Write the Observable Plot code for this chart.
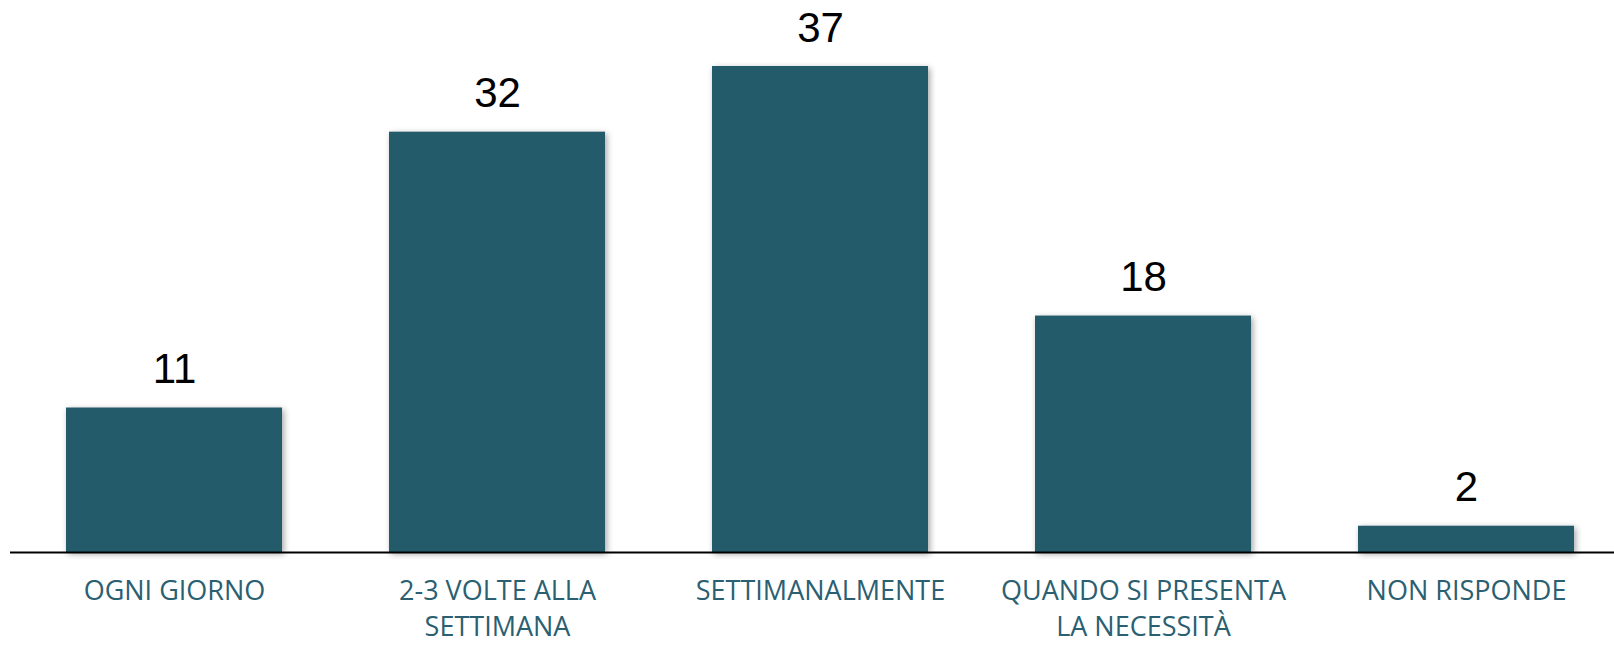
<!DOCTYPE html>
<html>
<head>
<meta charset="utf-8">
<script src="https://cdn.jsdelivr.net/npm/d3@7"></script>
<script src="https://cdn.jsdelivr.net/npm/@observablehq/plot@0.6"></script>
<style>
  html, body { margin: 0; padding: 0; background: #fff; overflow: hidden; }
  #chart svg { display: block; }
</style>
</head>
<body>
<div id="chart"></div>
<script>
const categories = ["OGNI GIORNO", "2-3 VOLTE ALLA SETTIMANA", "SETTIMANALMENTE", "QUANDO SI PRESENTA LA NECESSITÀ", "NON RISPONDE"];
const tickLabels = ["OGNI GIORNO", "2-3 VOLTE ALLA\nSETTIMANA", "SETTIMANALMENTE", "QUANDO SI PRESENTA\nLA NECESSITÀ", "NON RISPONDE"];
const values = [11, 32, 37, 18, 2];

const data = categories.map((c, i) => ({category: c, value: values[i]}));
const labelOf = new Map(categories.map((c, i) => [c, tickLabels[i]]));

const barColor = "#235B6B";
const labelColor = "#2A6071";

const chart = Plot.plot({
  width: 1614,
  height: 646,
  marginTop: 66,
  marginBottom: 94,
  marginLeft: 30,
  marginRight: 3,
  style: {fontFamily: "'Open Sans', sans-serif", background: "#fff"},
  x: {domain: categories, paddingInner: 0.33, paddingOuter: 0.105, label: null},
  y: {domain: [0, 37], axis: null},
  marks: [
    Plot.barY(data, {x: "category", y: "value", fill: barColor,
      imageFilter: "drop-shadow(2px 2px 3px rgba(0,0,0,0.35))"}),
    Plot.ruleY([0], {stroke: "#000", strokeWidth: 2, insetLeft: -20, insetRight: -3}),
    Plot.text(data, {x: "category", y: "value", text: d => String(d.value),
      lineAnchor: "bottom", dy: -25, fontSize: 42, fontFamily: "'Liberation Sans', Arial, sans-serif", fill: "#000"}),
    Plot.axisX({tickSize: 0, tickPadding: 22, fontSize: 27, lineHeight: 1.34,
      tickFormat: d => labelOf.get(d), fill: labelColor, color: labelColor, label: null})
  ]
});
document.getElementById("chart").appendChild(chart);
</script>
</body>
</html>
